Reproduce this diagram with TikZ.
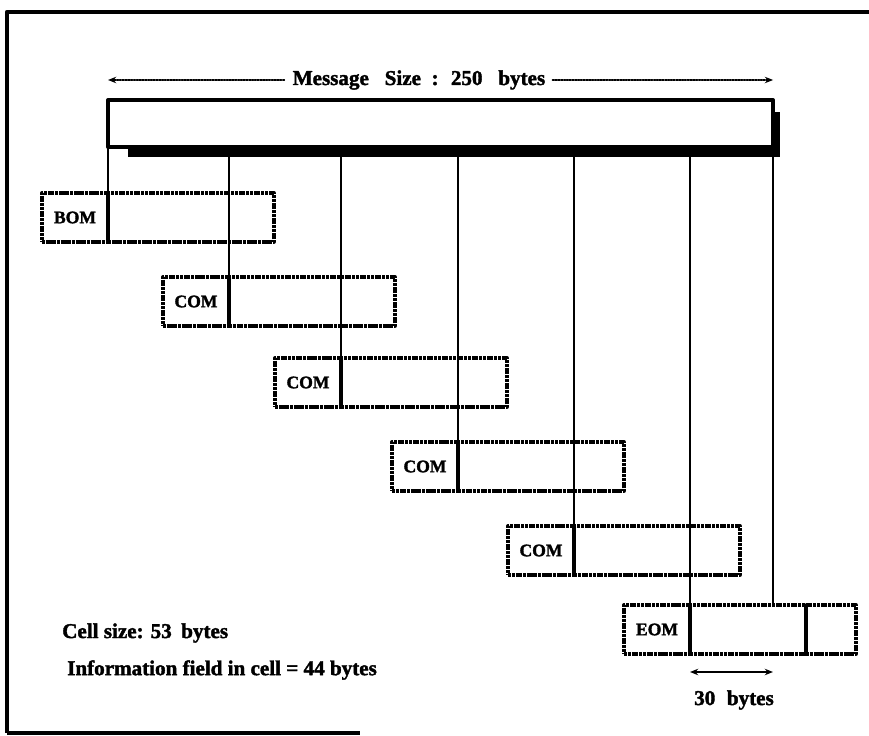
\documentclass[tikz,border=0pt]{standalone}
\usepackage{fontspec}
\setmainfont{Liberation Serif}[BoldFeatures={FakeBold=1.8}]
\usetikzlibrary{arrows.meta}

\tikzset{
  lbl/.style={font=\fontsize{18}{20}\selectfont\bfseries, inner sep=0pt},
  hdrbox/.style={draw, line width=2.8pt, line cap=butt, dash pattern=on 2.6pt off 0.6pt,
    minimum width=1.98cm, minimum height=1.47cm, inner sep=0pt, outer sep=0pt,
    font=\fontsize{15}{17}\selectfont\bfseries},
  bodybox/.style={draw, line width=2.8pt, line cap=butt, dash pattern=on 2.6pt off 0.6pt,
    minimum width=4.98cm, minimum height=1.47cm, inner sep=0pt, outer sep=0pt},
  vline/.style={line width=2.3pt},
  tip/.style={-{Stealth[length=7pt,width=5.5pt]}}
}

\begin{document}
\begin{tikzpicture}[x=0.03cm, y=-0.03cm, line cap=round, line join=round]
	\useasboundingbox (0,0) rectangle (869,736);

	% Rahmen
	\draw[line width=3.8pt, line cap=butt] (869,12) -- (7,12) -- (7,733);
	\draw[line width=2.8pt, line cap=butt] (7,733) -- (360,733);

	% Nachricht
	\node[draw, line width=2.8pt, minimum width=19.95cm, minimum height=1.41cm,
	      anchor=north west, inner sep=0pt, outer sep=0pt] (msg) at (108,100) {};
	\fill (128,147) rectangle (780,157);
	\fill (773,112) rectangle (780,157);

	\node[lbl] (title) at (419,80) {Message\hspace{0.5em} Size\hspace{0.25em} :\hspace{0.25em} 250\hspace{0.5em} bytes};
	\draw[tip, line width=1.4pt, densely dotted] ([xshift=-7pt]title.west) -- (title.west -| msg.west);
	\draw[tip, line width=1.4pt, densely dotted] ([xshift=6pt]title.east) -- (title.east -| msg.east);

	% Zellen: Trennlinie/Oberkante/Kopf
	\foreach \d/\t/\lab [count=\i] in {108/193/BOM, 229/277/COM, 341/358/COM,
	                                   458/442/COM, 574/526/COM, 690/605/EOM} {
		\node[hdrbox, anchor=north east] (h\i) at (\d,\t) {\lab};
		\node[bodybox, anchor=north west] (b\i) at (\d,\t) {};
		\draw[vline] (msg.south -| b\i.west) -- (b\i.south west);
	}
	\draw[vline] (msg.south east) -- (msg.south east |- b6.north);
	\draw[line width=2.6pt] (806,605) -- (806,654);

	% 30 bytes
	\coordinate (dl) at (690,672);
	\coordinate (dr) at (773,672);
	\draw[{Stealth[length=7pt,width=5.5pt]}-{Stealth[length=7pt,width=5.5pt]}, line width=1.8pt] (dl) -- (dr);
	\node[lbl] (nbytes) at (734,700) {30\hspace{0.3em} bytes};

	% Text unten links
	\node[lbl, anchor=west] (cell) at (62,633) {Cell size: 53\hspace{0.2em} bytes};
	\node[lbl, anchor=west] (info) at (67,670) {Information field in cell = 44 bytes};
\end{tikzpicture}
\end{document}
